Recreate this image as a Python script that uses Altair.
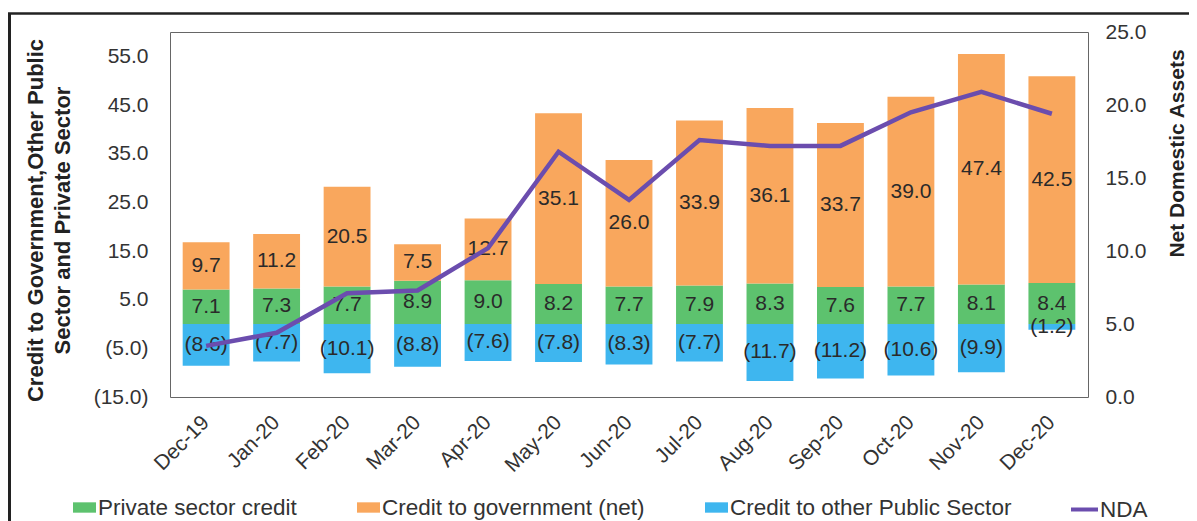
import altair as alt
import pandas as pd

months = ["Dec-19", "Jan-20", "Feb-20", "Mar-20", "Apr-20", "May-20", "Jun-20",
          "Jul-20", "Aug-20", "Sep-20", "Oct-20", "Nov-20", "Dec-20"]
private_credit = [7.1, 7.3, 7.7, 8.9, 9.0, 8.2, 7.7, 7.9, 8.3, 7.6, 7.7, 8.1, 8.4]
govt_credit = [9.7, 11.2, 20.5, 7.5, 12.7, 35.1, 26.0, 33.9, 36.1, 33.7, 39.0, 47.4, 42.5]
other_public = [-8.6, -7.7, -10.1, -8.8, -7.6, -7.8, -8.3, -7.7, -11.7, -11.2, -10.6, -9.9, -1.2]
nda = [3.5, 4.4, 7.1, 7.3, 10.2, 16.8, 13.5, 17.6, 17.2, 17.2, 19.5, 20.9, 19.4]

series_names = ["Private sector credit", "Credit to government (net)", "Credit to other Public Sector"]
series_colors = ["#5DC26E", "#F9A75D", "#3EB6EF"]
line_name = "NDA"
line_color = "#6B4DAE"
left_ticks = [-15, -5, 5, 15, 25, 35, 45, 55]
right_ticks = [0, 5, 10, 15, 20, 25]
left_title = ["Credit to Government,Other Public", "Sector and Private Sector"]
right_title = "Net Domestic Assets"


def fmt(v):
    return f"({abs(v):.1f})" if v < 0 else f"{v:.1f}"


rows = []
for i, m in enumerate(months):
    p, g, o = private_credit[i], govt_credit[i], other_public[i]
    rows.append(dict(month=m, series=series_names[0], lo=0.0, hi=p, mid=p / 2, label=fmt(p)))
    rows.append(dict(month=m, series=series_names[1], lo=p, hi=p + g, mid=p + g / 2, label=fmt(g)))
    rows.append(dict(month=m, series=series_names[2], lo=o, hi=0.0, mid=o / 2, label=fmt(o)))
bars_df = pd.DataFrame(rows)
line_df = pd.DataFrame(dict(month=months, nda=nda, name=[line_name] * len(months)))
one = pd.DataFrame({"a": [0]})

FONT = "Liberation Sans"
TXT = "#333333"
NBSP = "\u00a0"

xscale = alt.Scale(type="band", paddingInner=0.335, paddingOuter=0.18)
xenc = alt.X("month:N", sort=months, scale=xscale,
             axis=alt.Axis(title=None, labelAngle=-45, labelAlign="right", labelBaseline="middle",
                           labelPadding=22, ticks=False, domain=False, labelFontSize=21,
                           labelColor=TXT, labelFont=FONT))
lscale = alt.Scale(domain=[-15, 60], nice=False, zero=False)

bars = alt.Chart(bars_df).mark_bar().encode(
    x=xenc,
    y=alt.Y("lo:Q", scale=lscale,
            axis=alt.Axis(values=left_ticks,
                          labelExpr="datum.value < 0 ? '(' + format(-datum.value, '.1f') + ')' : format(datum.value, '.1f') + '" + NBSP + "'",
                          title=left_title, titleFontSize=22, titleFontWeight="bold", titleFont=FONT,
                          titleColor="#222222", titleAngle=270, titleAlign="center", titleBaseline="middle",
                          titleX=-135, titleY=188, titleLineHeight=27,
                          labelFontSize=21, labelColor=TXT, labelFont=FONT, labelPadding=22,
                          labelFlush=False, ticks=False, domain=False, grid=False)),
    y2="hi:Q",
    color=alt.Color("series:N", scale=alt.Scale(domain=series_names, range=series_colors),
                    legend=alt.Legend(title=None, orient="none", legendX=-97, legendY=464,
                                      direction="horizontal", symbolType="M-1,-0.45H1V0.45H-1Z",
                                      symbolSize=529, symbolStrokeWidth=0, labelFontSize=22.5,
                                      labelFont=FONT, labelColor=TXT, labelOffset=2, labelLimit=0,
                                      columnPadding=60, padding=0)),
)

labels = alt.Chart(bars_df).mark_text(fontSize=21, font=FONT, color="#2a2a2a",
                                      align="center", baseline="middle").encode(
    x=alt.X("month:N", sort=months, scale=xscale),
    y=alt.Y("mid:Q", scale=lscale, axis=None),
    text="label:N",
)

line = alt.Chart(line_df).mark_line(strokeWidth=4.5).encode(
    x=alt.X("month:N", sort=months, scale=xscale),
    y=alt.Y("nda:Q", scale=alt.Scale(domain=[0, 25], nice=False),
            axis=alt.Axis(orient="right", values=right_ticks, format=".1f",
                          title=right_title, titleFontSize=21, titleFontWeight="bold", titleFont=FONT,
                          titleColor="#222222", titleAngle=270, titleAlign="center", titleBaseline="middle",
                          titleX=89, titleY=121,
                          labelFontSize=21, labelColor=TXT, labelFont=FONT, labelPadding=17,
                          labelFlush=False, ticks=False, domain=False, grid=False)),
    stroke=alt.Stroke("name:N", scale=alt.Scale(domain=[line_name], range=[line_color]),
                      legend=alt.Legend(title=None, orient="none", legendX=899, legendY=462,
                                        symbolType="stroke", symbolSize=729, symbolStrokeWidth=4,
                                        labelFontSize=22.5, labelFont=FONT, labelColor=TXT,
                                        labelOffset=0, labelLimit=0, padding=0)),
)

frame_top = alt.Chart(one).mark_rule(color="#222222", strokeWidth=2.5).encode(
    x=alt.value(-162), x2=alt.value(1030), y=alt.value(-18.5))
frame_left = alt.Chart(one).mark_rule(color="#222222", strokeWidth=3).encode(
    x=alt.value(-160.5), y=alt.value(-18.5), y2=alt.value(520))

chart = alt.layer(bars, labels, line, frame_top, frame_left).resolve_scale(
    y="independent", color="independent", stroke="independent"
).properties(
    width=918, height=365,
    autosize=alt.AutoSizeParams(type="none"),
    padding={"left": 162, "top": 24, "right": 101, "bottom": 126},
    background="white",
).configure_view(stroke="#666666", strokeWidth=1).configure_axis(grid=False)

chart.save("out.html", embed_options={"renderer": "svg", "actions": False})
